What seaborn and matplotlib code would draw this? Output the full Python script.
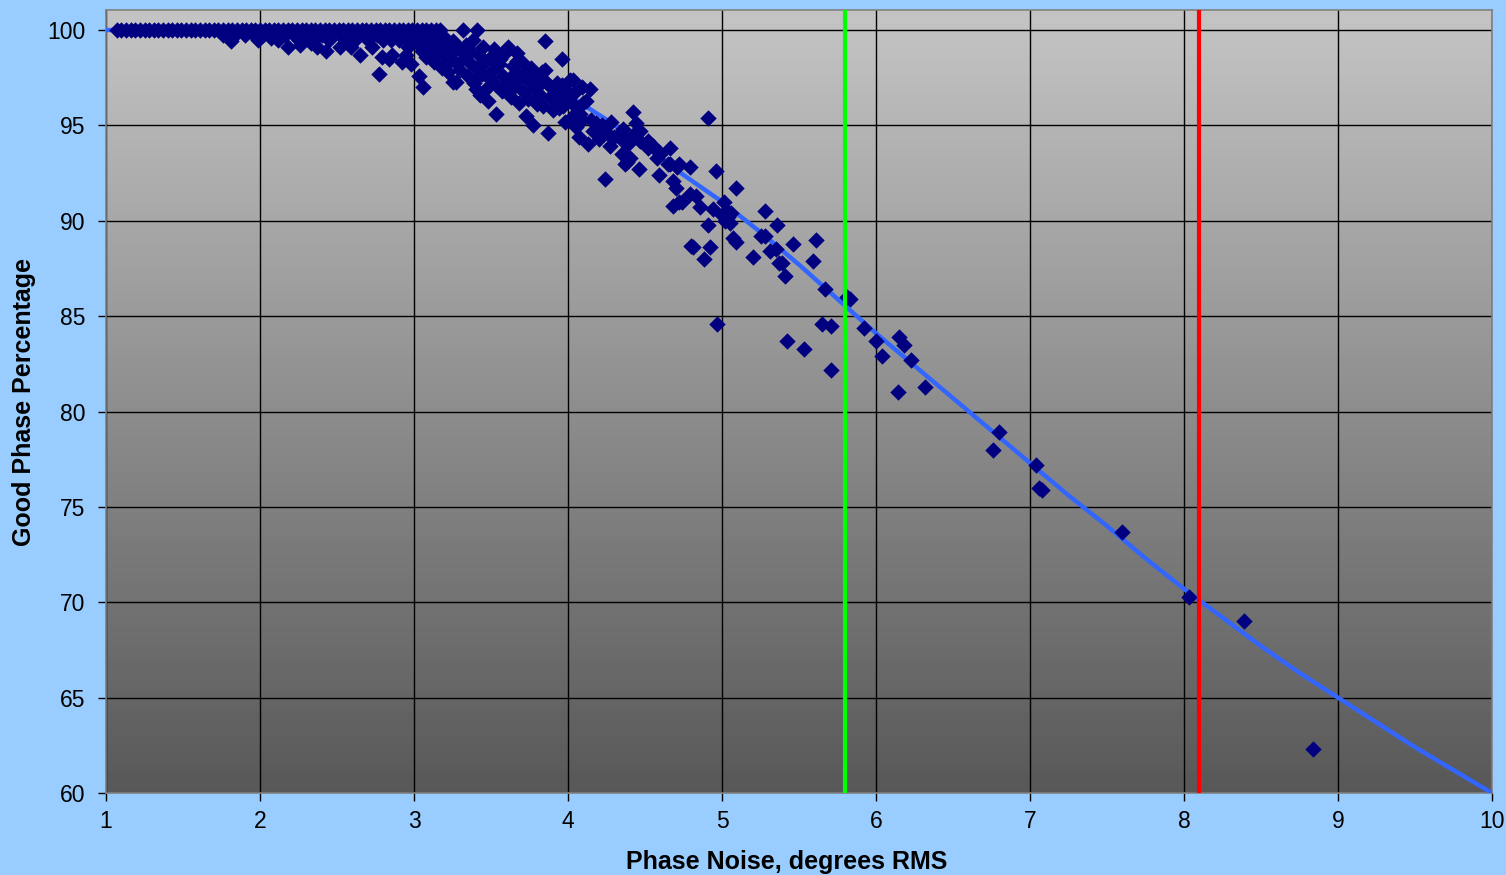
import numpy as np
import pandas as pd
import matplotlib
matplotlib.use('Agg')
import matplotlib.pyplot as plt
import seaborn as sns

sns.set_theme(style='white')
plt.rcParams['font.family'] = ['Liberation Sans', 'DejaVu Sans']

# ===== data =====
# points sitting on the 100% line (phase noise, deg RMS)
flat_x = [1.07, 1.10, 1.13, 1.16, 1.19, 1.22, 1.25, 1.28, 1.31, 1.34, 1.37, 1.40,
          1.43, 1.46, 1.49, 1.52, 1.55, 1.58, 1.61, 1.64, 1.67, 1.70, 1.73, 1.76,
          1.79, 1.82, 1.85, 1.88, 1.91, 1.94, 1.97, 2.00, 2.03, 2.06, 2.09, 2.12,
          2.15, 2.18, 2.21, 2.24, 2.27, 2.30, 2.33, 2.36, 2.39, 2.42, 2.45, 2.48,
          2.51, 2.54, 2.57, 2.60, 2.63, 2.66, 2.69, 2.72, 2.75, 2.78, 2.81, 2.84,
          2.87, 2.90, 2.93, 2.96, 2.99, 3.02, 3.05, 3.08, 3.11, 3.14, 3.17, 3.32, 3.41]
flat_pct = 100.0

# knee region, x < 3
knee_x = [1.76, 1.84, 1.90, 1.96, 2.02, 2.10, 2.16, 2.22, 2.28, 2.34, 2.40, 2.46,
          2.52, 2.58, 2.64, 2.70, 2.76, 2.82, 2.88, 2.94, 3.00,
          2.25, 2.35, 2.45, 2.55, 2.62, 2.70, 2.80, 2.85, 2.90, 2.97,
          1.81, 1.99, 2.07, 2.12, 2.18, 2.26, 2.33, 2.37, 2.43, 2.52, 2.59, 2.65,
          2.73, 2.77, 2.79, 2.84, 2.86, 2.92, 2.95, 2.96, 2.98]
knee_y = [99.75, 99.75, 99.75, 99.75, 99.75, 99.75, 99.75, 99.75, 99.75, 99.75, 99.75, 99.75,
          99.75, 99.75, 99.75, 99.75, 99.75, 99.75, 99.75, 99.75, 99.75,
          99.5, 99.5, 99.5, 99.5, 99.5, 99.5, 99.5, 99.5, 99.5, 99.5,
          99.4, 99.5, 99.6, 99.5, 99.1, 99.2, 99.3, 99.1, 98.9, 99.1, 99.1, 98.7,
          99.1, 97.7, 98.6, 98.5, 98.7, 98.3, 98.7, 99.1, 98.2]

# dense falling band, 3 < x < 4.2
band_x = [3.00, 3.02, 3.03, 3.04, 3.05, 3.06, 3.07, 3.08, 3.10, 3.10,
          3.12, 3.13, 3.14, 3.15, 3.17, 3.18, 3.19, 3.20,
          3.21, 3.22, 3.23, 3.25, 3.25, 3.26, 3.27, 3.28, 3.30, 3.30,
          3.33, 3.34, 3.35, 3.36, 3.37, 3.38, 3.39, 3.40, 3.40,
          3.42, 3.43, 3.43, 3.44, 3.45, 3.46, 3.47, 3.48, 3.49, 3.50,
          3.51, 3.52, 3.53, 3.53, 3.53, 3.55, 3.56, 3.57, 3.58, 3.59, 3.60,
          3.61, 3.61, 3.62, 3.63, 3.64, 3.65, 3.66, 3.67, 3.67, 3.68, 3.69, 3.70,
          3.71, 3.72, 3.73, 3.74, 3.75, 3.76, 3.77, 3.78, 3.79, 3.80,
          3.81, 3.82, 3.82, 3.83, 3.84, 3.85, 3.85, 3.86, 3.87, 3.88, 3.89, 3.90,
          3.91, 3.92, 3.93, 3.94, 3.95, 3.96, 3.96, 3.97, 3.98, 3.99, 4.00,
          4.01, 4.02, 4.03, 4.03, 4.04, 4.05, 4.06, 4.07, 4.08, 4.09, 4.09, 4.10,
          4.12, 4.13, 4.14, 4.15, 4.16, 4.18, 4.20]
band_y = [99.8, 99.3, 97.6, 99.6, 98.9, 97.0, 99.5, 98.6, 99.2, 99.9,
          99.0, 98.3, 99.5, 98.8, 99.3, 98.0, 99.7, 98.6,
          99.1, 97.8, 98.4, 99.4, 97.3, 98.9, 97.3, 98.2, 99.0, 97.9,
          98.6, 99.2, 97.6, 98.3, 98.9, 99.5, 97.2, 98.0, 96.9,
          98.7, 96.6, 97.7, 97.7, 99.1, 98.3, 96.9, 96.3, 97.5, 98.6,
          97.9, 99.0, 97.1, 95.6, 98.5, 98.2, 98.5, 96.8, 97.6, 98.8, 97.2,
          99.1, 97.4, 97.4, 96.5, 98.1, 97.0, 97.8, 98.8, 98.4, 96.2, 97.5, 98.3,
          96.8, 97.7, 95.5, 96.4, 97.3, 98.0, 95.0, 96.9, 97.6, 96.1,
          97.1, 96.6, 97.5, 97.8, 96.0, 99.4, 97.9, 97.3, 94.6, 96.5, 97.0, 95.8,
          96.9, 96.3, 97.2, 95.9, 96.6, 98.5, 97.1, 96.0, 95.2, 96.8, 96.4,
          97.4, 95.4, 96.1, 97.4, 96.7, 94.9, 95.7, 94.4, 95.6, 97.0, 95.3, 96.2,
          96.3, 94.0, 96.9, 95.3, 94.7, 95.1, 94.3]

# slope region, 4.2 < x < 5.2
slope_x = [4.22, 4.24, 4.25, 4.27, 4.28, 4.30, 4.33, 4.35, 4.36, 4.36, 4.37, 4.38,
           4.39, 4.40, 4.42, 4.42, 4.44, 4.46, 4.47, 4.47, 4.52, 4.52, 4.55, 4.58,
           4.59, 4.59, 4.60, 4.65, 4.66, 4.66, 4.68, 4.68, 4.70, 4.71, 4.72, 4.72,
           4.74, 4.79, 4.79, 4.80, 4.81, 4.83, 4.86, 4.88, 4.91, 4.91, 4.92, 4.94,
           4.96, 4.97, 5.00, 5.01, 5.02, 5.03, 5.04, 5.05, 5.06, 5.07, 5.09, 5.09]
slope_y = [95.0, 92.2, 94.6, 93.9, 95.2, 94.4, 94.5, 93.5, 94.8, 94.2, 93.0, 93.1,
           94.0, 93.3, 95.7, 94.5, 95.1, 92.7, 94.7, 94.2, 94.2, 93.8, 93.9, 93.3,
           93.6, 92.4, 93.5, 93.0, 93.8, 93.0, 92.1, 90.8, 91.7, 92.8, 93.0, 91.0,
           91.0, 92.8, 91.4, 88.7, 88.6, 91.3, 90.7, 88.0, 95.4, 89.8, 88.6, 90.6,
           92.6, 84.6, 90.3, 91.0, 90.0, 90.5, 90.2, 89.9, 90.4, 89.1, 88.9, 91.7]

# sparse tail, x > 5.2
tail_x = [5.20, 5.25, 5.28, 5.28, 5.31, 5.35, 5.36, 5.37, 5.39, 5.41, 5.42, 5.46,
          5.53, 5.59, 5.61, 5.65, 5.67, 5.71, 5.71, 5.81, 5.83, 5.92, 6.00, 6.04,
          6.14, 6.15, 6.18, 6.23, 6.32, 6.76, 6.80, 7.04, 7.06, 7.08, 7.60, 8.03,
          8.39, 8.84]
tail_y = [88.1, 89.2, 90.5, 89.2, 88.4, 88.5, 89.8, 87.8, 87.8, 87.1, 83.7, 88.8,
          83.3, 87.9, 89.0, 84.6, 86.4, 84.5, 82.2, 86.0, 85.9, 84.4, 83.7, 82.9,
          81.0, 83.9, 83.5, 82.7, 81.3, 78.0, 78.9, 77.2, 76.0, 75.9, 73.7, 70.3,
          69.0, 62.3]

# fitted trend line
fit_x = [1.0, 1.5, 2.0, 2.5, 2.75, 3.0, 3.25, 3.5, 3.75, 4.0, 4.25, 4.5, 4.75,
         5.0, 5.25, 5.5, 5.75, 6.0, 6.25, 6.5, 6.75, 7.0, 7.25, 7.5, 7.75,
         8.0, 8.25, 8.5, 8.75, 9.0, 9.25, 9.5, 9.75, 10.0]
fit_y = [100.0, 100.0, 100.0, 99.95, 99.85, 99.6, 99.15, 98.5, 97.6, 96.6, 95.3, 93.9, 92.4,
         91.0, 89.4, 87.7, 85.9, 84.1, 82.4, 80.7, 79.0, 77.3, 75.6, 74.0, 72.3,
         70.7, 69.2, 67.7, 66.3, 65.0, 63.7, 62.4, 61.2, 60.0]

green_limit = 5.8
red_limit = 8.1

# ===== build table =====
pts = pd.DataFrame({
    'noise': flat_x + knee_x + band_x + slope_x + tail_x,
    'good': [flat_pct] * len(flat_x) + knee_y + band_y + slope_y + tail_y,
})
fit = pd.DataFrame({'noise': fit_x, 'good': fit_y})

fig = plt.figure(figsize=(15.06, 8.75), dpi=100, facecolor='#99CCFF')
ax = fig.add_axes([106 / 1506, 82 / 875, 1386 / 1506, 783 / 875])

# gray gradient background of the plot area
grad = np.linspace(0.345, 0.77, 256).reshape(-1, 1)
ax.imshow(grad, aspect='auto', cmap='gray', vmin=0, vmax=1, origin='lower',
          extent=[0, 1, 0, 1], transform=ax.transAxes, zorder=0)

sns.lineplot(data=fit, x='noise', y='good', color='#3366FF', linewidth=3.2, ax=ax, zorder=3)
sns.scatterplot(data=pts, x='noise', y='good', marker='D', s=70, color='#000080',
                linewidth=0, ax=ax, zorder=4)
ax.axvline(green_limit, color='#00FF00', linewidth=3, zorder=5)
ax.axvline(red_limit, color='#FF0000', linewidth=3, zorder=5)

ax.set_xlim(1, 10)
ax.set_ylim(60, 101.05)
ax.set_xticks(range(1, 11))
ax.set_yticks(range(60, 101, 5))
ax.grid(True, color='black', linewidth=1.0)
ax.set_axisbelow(True)
for sp in ax.spines.values():
    sp.set_color('#808080')
    sp.set_linewidth(1.2)

ax.tick_params(axis='both', direction='out', length=6, width=1, color='black',
               labelsize=16.5, labelcolor='black')
ax.tick_params(axis='x', pad=6, bottom=True)
ax.tick_params(axis='y', pad=9, left=True)

ax.set_xlabel('Phase Noise, degrees RMS', fontsize=18, fontweight='bold', color='black')
ax.set_ylabel('Good Phase Percentage', fontsize=18, fontweight='bold', color='black', labelpad=8)
ax.xaxis.set_label_coords(0.491, -0.073)

fig.savefig('out.png', dpi=100, facecolor=fig.get_facecolor())
